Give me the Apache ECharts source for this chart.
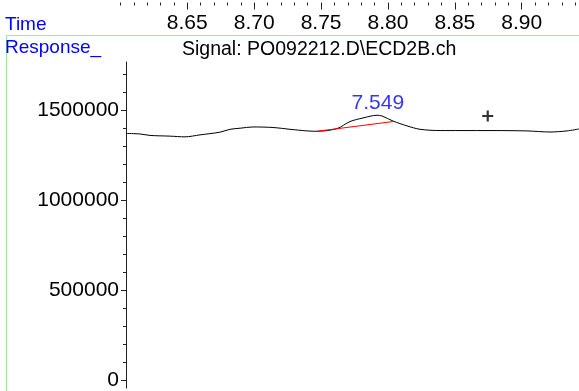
<!DOCTYPE html>
<html><head><meta charset="utf-8">
<script src="https://cdn.jsdelivr.net/npm/echarts@6/dist/echarts.min.js"></script>
<style>html,body{margin:0;padding:0;background:#fff}#c{width:579px;height:391px}</style>
</head><body><div id="c"></div>
<script>
// ---- data ----
const sigTime = [7.3600, 7.3705, 7.3780, 7.3930, 7.4043, 7.4155, 7.4305, 7.4381, 7.4456, 7.4553, 7.4703, 7.4831, 7.4958, 7.5034, 7.5184, 7.5281, 7.5379, 7.5484, 7.5521, 7.5604, 7.5709, 7.5807, 7.5957, 7.6107, 7.6354, 7.6610, 7.6782, 7.6910, 7.7000];
const sigResp = [1373000, 1370000, 1362000, 1358000, 1354000, 1365000, 1380000, 1396000, 1402000, 1409000, 1406000, 1396000, 1387000, 1385000, 1400000, 1439000, 1459000, 1474000, 1470000, 1442000, 1415000, 1396000, 1389000, 1389000, 1389000, 1387000, 1381000, 1387000, 1398000];
const baseTime = [7.5034, 7.5604];
const baseResp = [1385000, 1439000];
const peakTime = [7.549];
const peakResp = [1474000];
const markTime = [7.6315];
const markResp = [1470000];
const topMajor = [8.65, 8.70, 8.75, 8.80, 8.85, 8.90];
const topMinor = [8.60, 8.61, 8.62, 8.63, 8.64, 8.66, 8.67, 8.68, 8.69, 8.71, 8.72, 8.73, 8.74, 8.76, 8.77, 8.78, 8.79, 8.81, 8.82, 8.83, 8.84, 8.86, 8.87, 8.88, 8.89, 8.91, 8.92, 8.93, 8.94];
const yMajor = [0, 500000, 1000000, 1500000];
const yMinor = [100000, 200000, 300000, 400000, 600000, 700000, 800000, 900000, 1100000, 1200000, 1300000, 1400000, 1600000, 1700000];
const titleText = 'Signal: PO092212.D\\ECD2B.ch';

// ---- chart ----
const F = '"Liberation Sans", Arial, sans-serif';
const zip = (a, b) => a.map((v, i) => [v, b[i]]);
const chart = echarts.init(document.getElementById('c'), null, {renderer: 'canvas'});
const yMin = -42400, yMax = 1770000;
const option = {
  animation: false,
  backgroundColor: '#fff',
  graphic: [{type: 'rect', silent: true, z: -10,
    shape: {x: 6.5, y: 35.5, width: 700, height: 500},
    style: {fill: 'none', stroke: '#9ee89e', lineWidth: 1}}],
  title: [
    {text: 'Time', left: 5, top: 15, padding: 0,
     textStyle: {fontFamily: F, fontSize: 19, fontWeight: 'normal', color: '#0000ff'}},
    {text: 'Response_', left: 5, top: 38, padding: 0,
     textStyle: {fontFamily: F, fontSize: 19, fontWeight: 'normal', color: '#0000ff'}},
    {text: titleText, left: 182, top: 40, padding: 0,
     textStyle: {fontFamily: F, fontSize: 19.5, fontWeight: 'normal', color: '#000'}}
  ],
  grid: [
    {left: 120.4, right: 0, top: -10, height: 10},
    {left: 126, right: 0, top: 62, bottom: 0}
  ],
  xAxis: [
    {gridIndex: 0, type: 'value', position: 'bottom', min: 8.60, max: 8.9428,
     axisLine: {show: false}, splitLine: {show: false},
     axisTick: {show: true, customValues: topMajor, length: 7, lineStyle: {color: '#222'}},
     axisLabel: {customValues: topMajor, formatter: v => v.toFixed(2), fontFamily: F, fontSize: 21, color: '#000', margin: 10}},
    {gridIndex: 0, type: 'value', position: 'bottom', min: 8.60, max: 8.9428,
     axisLine: {show: false}, splitLine: {show: false},
     axisTick: {show: true, customValues: topMinor, length: 3, lineStyle: {color: '#222'}},
     axisLabel: {show: false}},
    {gridIndex: 1, type: 'value', min: 7.36, max: 7.70, show: false}
  ],
  yAxis: [
    {gridIndex: 0, type: 'value', show: false},
    {gridIndex: 1, type: 'value', min: yMin, max: yMax, position: 'left',
     axisLine: {show: true, lineStyle: {color: '#222'}}, splitLine: {show: false},
     axisTick: {show: true, customValues: yMajor, length: 5, lineStyle: {color: '#222'}},
     axisLabel: {customValues: yMajor, formatter: v => String(v), fontFamily: F, fontSize: 21, color: '#000', margin: 7}},
    {gridIndex: 1, type: 'value', min: yMin, max: yMax, position: 'left',
     axisLine: {show: false}, splitLine: {show: false},
     axisTick: {show: true, customValues: yMinor, length: 3, lineStyle: {color: '#222'}},
     axisLabel: {show: false}}
  ],
  series: [
    {type: 'line', xAxisIndex: 2, yAxisIndex: 1, data: zip(sigTime, sigResp),
     symbol: 'none', smooth: 0.3, lineStyle: {color: '#000', width: 1}, z: 2},
    {type: 'line', xAxisIndex: 2, yAxisIndex: 1, data: zip(baseTime, baseResp),
     symbol: 'none', lineStyle: {color: '#ff0000', width: 1}, z: 3},
    {type: 'scatter', xAxisIndex: 2, yAxisIndex: 1, data: zip(markTime, markResp),
     symbol: 'path://M0,4H10V6H0Z M4,0H6V10H4Z', symbolSize: 11,
     itemStyle: {color: '#000'}, z: 4},
    {type: 'scatter', xAxisIndex: 2, yAxisIndex: 1, data: zip(peakTime, peakResp),
     symbolSize: 0, z: 5,
     label: {show: true, position: 'top', distance: 2, formatter: p => p.value[0].toFixed(3),
       fontFamily: F, fontSize: 21, color: '#0000ff'}}
  ]
};
chart.setOption(option);
</script></body></html>
